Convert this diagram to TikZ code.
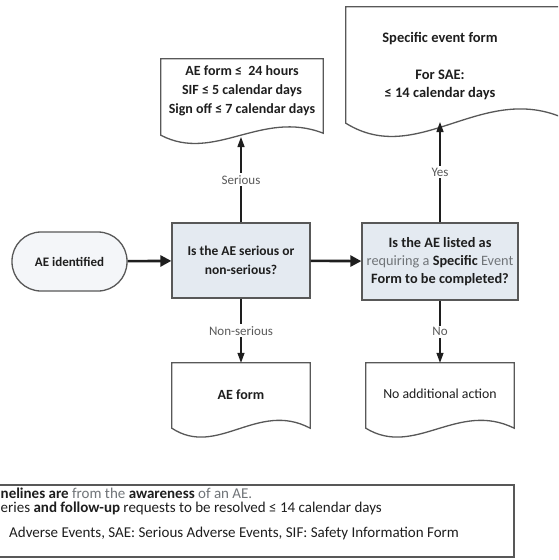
\documentclass[tikz,border=0pt]{standalone}
\usepackage{fontspec}
\setmainfont{Carlito}
\usetikzlibrary{arrows.meta,calc}
\definecolor{edge}{HTML}{585858}
\definecolor{decfill}{HTML}{E4EAF1}
\definecolor{startfill}{HTML}{F4F6F9}
\definecolor{ink}{HTML}{1E1E1E}
\definecolor{soft}{HTML}{707478}
\definecolor{lblgray}{HTML}{5A5A5A}
% #1 node, #2 dip, #3 rise, #4 right end lift
\newcommand\wavydoc[4]{%
  \draw[docline] (#1.south west)
    .. controls ($(#1.south west)!0.33!(#1.south east)+(0,#2)$)
       and ($(#1.south west)!0.62!(#1.south east)+(0,-#3)$)
    .. ($(#1.south east)+(0,-#4)$) -- (#1.north east) -- (#1.north west) -- cycle;}
\newcommand\fs[2]{\fontsize{#1}{#2}\selectfont}
\begin{document}
\begin{tikzpicture}[x=1pt,y=-1pt,
  base/.style={text=ink},
  startbox/.style={base, font=\fs{13}{16}\bfseries, draw=edge, fill=startfill, line width=1.3pt,
    minimum width=115pt, minimum height=59pt, rounded corners=29pt, inner sep=0pt},
  decbox/.style={base, draw=edge, fill=decfill, line width=1.3pt, align=center, inner sep=0pt},
  docrect/.style={base, draw=none, inner sep=0pt, align=center},
  doctext/.style={base, align=center, inner sep=0pt},
  docline/.style={draw=edge, fill=white, line width=1.3pt},
  lbl/.style={font=\fs{13}{15}, text=lblgray, fill=white, inner sep=2pt},
  thickarrow/.style={line width=2.6pt, draw=ink, -{Triangle[length=11pt,width=11pt]}},
  thinarrow/.style={line width=1.3pt, draw=ink, -{Triangle[length=10pt,width=7pt]}},
  fntext/.style={font=\fs{15}{16}, text=ink, inner sep=0pt, anchor=base west},
  fnbox/.style={draw=edge, line width=1.3pt, inner sep=0pt}
]
\useasboundingbox (0,0) rectangle (558,560);
\clip (0,0) rectangle (558,560);
\fill[white] (0,0) rectangle (558,560);

% document shapes (outline nodes)
\node[docrect, minimum width=162pt, minimum height=76pt] (sev) at (242,97) {};
\wavydoc{sev}{28}{26}{2}
\node[doctext, font=\fs{14}{19}\bfseries] (sevtext) at (242,91)
  {AE form ≤\ \ 24 hours\\SIF ≤ 5 calendar days\\Sign off ≤ 7 calendar days};

\node[docrect, minimum width=224pt, minimum height=116pt] (spec) at (458,65) {};
\wavydoc{spec}{46}{46}{2}
\node[doctext, font=\fs{14.5}{18.5}\bfseries] (spectext) at (440,66)
  {Specific event form\\[18.5pt]For SAE:\\≤ 14 calendar days};

\node[docrect, minimum width=138pt, minimum height=65pt] (aeform) at (241,395.5) {};
\wavydoc{aeform}{30}{28}{0}
\node[doctext, font=\fs{14}{17}\bfseries] (aeformtext) at (241,395) {AE form};

\node[docrect, minimum width=148pt, minimum height=65pt] (noact) at (440,395.5) {};
\wavydoc{noact}{30}{28}{0}
\node[doctext, font=\fs{13.8}{17}] (noacttext) at (440,394) {No additional action};

% process boxes
\node[startbox] (ae) at (69.5,261.5) {AE identified};
\node[decbox, font=\fs{13.5}{18.5}\bfseries, minimum width=138pt, minimum height=75pt] (dec1) at (241,260.5)
  {Is the AE serious or\\non-serious?};
\node[decbox, font=\fs{14.3}{18}\bfseries, minimum width=156pt, minimum height=77pt] (dec2) at (440,261.5)
  {Is the AE listed as\\{\mdseries\color{soft}requiring a} Specific {\mdseries\color{soft}Event}\\Form to be completed?};

% connectors
\coordinate (sevtip) at (241,137);
\coordinate (spectip) at (440,122);
\draw[thickarrow] (ae) -- (dec1);
\draw[thickarrow] (dec1) -- (dec2);
\draw[thinarrow] (dec1.north) -- node[lbl] (lserious) {Serious} (sevtip);
\draw[thinarrow] (dec2.north) -- node[lbl] (lyes) {Yes} (spectip);
\draw[thinarrow] (dec1.south) -- node[lbl] (lnonser) {Non-serious} (aeform.north);
\draw[thinarrow] (dec2.south) -- node[lbl] (lno) {No} (noact.north);

% footnote box
\node[fnbox, minimum width=524pt, minimum height=72pt] (notes) at (252,521) {};
\node[fntext] (fn1) at (0.5,498.5) {\textbf{nelines are} {\color{soft}from the} \textbf{awareness} {\color{soft}of an AE.}};
\node[fntext] (fn2) at (0.5,512) {eries \textbf{and follow-up} requests to be resolved ≤ 14 calendar days};
\node[fntext] (fn3) at (9,537) {Adverse Events, SAE: Serious Adverse Events, SIF: Safety Information Form};
\end{tikzpicture}
\end{document}
